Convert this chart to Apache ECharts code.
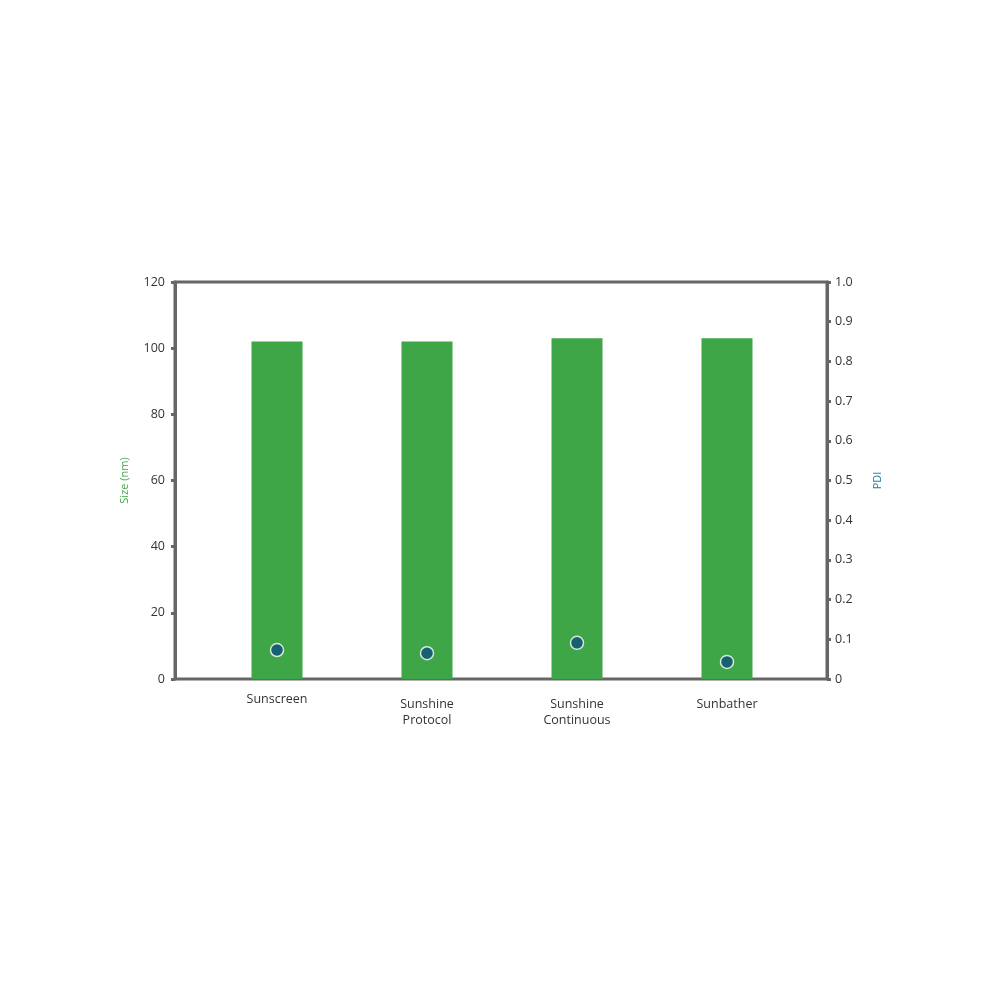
<!DOCTYPE html>
<html><head><meta charset="utf-8">
<script src="https://cdn.jsdelivr.net/npm/echarts@6/dist/echarts.min.js"></script>
<style>html,body{margin:0;padding:0;background:#fff}#c{width:1000px;height:1000px}</style>
</head><body><div id="c"></div>
<script>
const categories = ['Sunscreen', 'Sunshine\nProtocol', 'Sunshine\nContinuous', 'Sunbather'];
const sizeValues = [102, 102, 103, 103];
const pdiValues = [0.073, 0.065, 0.091, 0.043];
const sizeTicks = [0, 20, 40, 60, 80, 100, 120];
const pdiTicks = [0, 0.1, 0.2, 0.3, 0.4, 0.5, 0.6, 0.7, 0.8, 0.9, 1.0];

const font = 'Open Sans';
const axisGray = '#666666';
const catData = categories.map((c, i) => ({value: c, textStyle: {padding: [i === 0 ? 0 : 5, 0, 0, 0]}}));
const chart = echarts.init(document.getElementById('c'));
chart.setOption({
  animation: false,
  grid: [
    {left: 175, right: 173, top: 282, bottom: 321, show: true, borderColor: axisGray, borderWidth: 3, backgroundColor: 'transparent'},
    {left: 202, right: 198, top: 282, bottom: 321}
  ],
  xAxis: [
    {gridIndex: 0, type: 'value', min: 0, max: 1, show: false},
    {gridIndex: 1, type: 'category', data: catData,
     axisLine: {show: false}, axisTick: {show: false},
     axisLabel: {color: '#333', fontFamily: font, fontSize: 12.5, margin: 12, lineHeight: 16}}
  ],
  yAxis: [
    {gridIndex: 0, type: 'value', min: sizeTicks[0], max: sizeTicks[sizeTicks.length-1], interval: 20,
     position: 'left', name: 'Size (nm)', nameLocation: 'middle', nameGap: 45,
     nameTextStyle: {color: '#3ea646', fontFamily: font, fontSize: 11},
     axisLine: {show: true, lineStyle: {color: axisGray, width: 3}},
     axisTick: {show: true, length: 4, lineStyle: {color: axisGray, width: 3}},
     axisLabel: {color: '#333', fontFamily: font, fontSize: 12.5, margin: 10},
     splitLine: {show: false}},
    {gridIndex: 0, type: 'value', min: 0, max: 1, interval: 0.1,
     position: 'right', name: 'PDI', nameLocation: 'middle', nameGap: 45,
     nameTextStyle: {color: '#1a7aa6', fontFamily: font, fontSize: 11},
     axisLine: {show: true, lineStyle: {color: axisGray, width: 3}},
     axisTick: {show: true, length: 4, lineStyle: {color: axisGray, width: 3}},
     axisLabel: {color: '#333', fontFamily: font, fontSize: 12.5, margin: 8,
       formatter: v => (v === 0 ? '0' : (v === 1 ? '1.0' : String(Math.round(v*10)/10)))},
     splitLine: {show: false}},
    {gridIndex: 1, type: 'value', min: 0, max: 120, show: false},
    {gridIndex: 1, type: 'value', min: 0, max: 1, show: false}
  ],
  series: [
    {type: 'bar', xAxisIndex: 1, yAxisIndex: 2, data: sizeValues, barWidth: 51,
     itemStyle: {color: '#3ea646'}},
    {type: 'scatter', xAxisIndex: 1, yAxisIndex: 3, data: pdiValues, symbolSize: 13,
     itemStyle: {color: '#0d4f7c', borderColor: '#ffffff', borderWidth: 1.5}, z: 5}
  ]
});
</script></body></html>
